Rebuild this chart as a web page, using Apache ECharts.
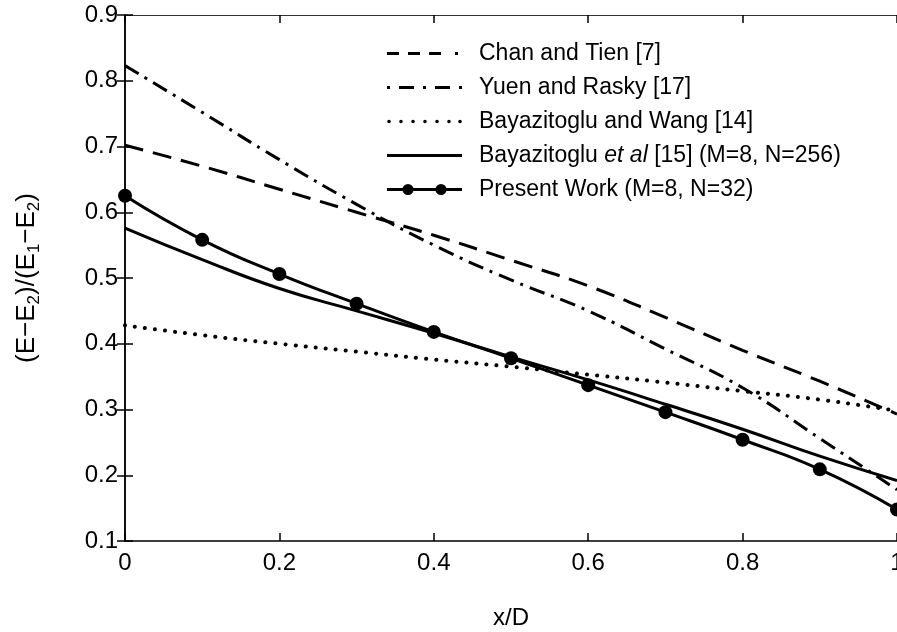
<!DOCTYPE html>
<html>
<head>
<meta charset="utf-8">
<script src="https://cdn.jsdelivr.net/npm/echarts@6/dist/echarts.min.js"></script>
<style>
html,body{margin:0;padding:0;background:#fff;}
#chart{width:897px;height:632px;}
</style>
</head>
<body>
<div id="chart"></div>
<script>
// ---- data ----
const xValues = [0, 0.1, 0.2, 0.3, 0.4, 0.5, 0.6, 0.7, 0.8, 0.9, 1.0];
const chanTien = [0.702, 0.670, 0.635, 0.600, 0.565, 0.527, 0.488, 0.440, 0.390, 0.343, 0.293];
const yuenRasky = [0.823, 0.752, 0.680, 0.612, 0.550, 0.497, 0.450, 0.392, 0.333, 0.256, 0.178];
const bayWang = [0.428, 0.413, 0.400, 0.388, 0.376, 0.365, 0.353, 0.341, 0.328, 0.315, 0.298];
const bayEtAl = [0.576, 0.528, 0.484, 0.450, 0.416, 0.380, 0.345, 0.308, 0.270, 0.229, 0.192];
const presentWork = [0.625, 0.558, 0.506, 0.461, 0.418, 0.378, 0.337, 0.296, 0.254, 0.209, 0.148];
const seriesNames = [
  'Chan and Tien [7]',
  'Yuen and Rasky [17]',
  'Bayazitoglu and Wang [14]',
  'Bayazitoglu et al [15] (M=8, N=256)',
  'Present Work (M=8, N=32)'
];
const xTickLabels = ['0', '0.2', '0.4', '0.6', '0.8', '1'];
const yTickLabels = ['0.1', '0.2', '0.3', '0.4', '0.5', '0.6', '0.7', '0.8', '0.9'];

const FONT = 'Liberation Sans, Arial, Helvetica, sans-serif';
const pts = arr => xValues.map((x, i) => [x, arr[i]]);

const chart = echarts.init(document.getElementById('chart'), null, {renderer: 'canvas'});

const axisLine = {show: true, lineStyle: {color: '#000', width: 1.5}};
const tickIn = {show: true, inside: true, length: 8, lineStyle: {color: '#000', width: 1.5}};

// legend sample glyphs (75 x 12 boxes; the two bare moves fix the box corners)
const BOX = 'M0,0 M75,12 ';
const rect = (x0, x1) => 'M' + x0 + ',4.6 L' + x1 + ',4.6 L' + x1 + ',7.4 L' + x0 + ',7.4 Z ';
const dot = (cx, r) => 'M' + (cx - r) + ',6 A' + r + ',' + r + ' 0 1,1 ' + (cx + r) + ',6 A' + r + ',' + r + ' 0 1,1 ' + (cx - r) + ',6 Z ';
const iconDash = 'path://' + BOX + rect(0, 12) + rect(21, 33) + rect(42, 54) + rect(68, 71);
const iconDashDot = 'path://' + BOX + rect(0, 3) + rect(12, 27) + rect(36, 39) + rect(48, 63) + rect(72, 75);
const iconDot = 'path://' + BOX + dot(2, 1.8) + dot(14, 1.8) + dot(26, 1.8) + dot(38, 1.8) + dot(50, 1.8) + dot(62, 1.8) + dot(73, 1.8);
const iconSolid = 'path://' + BOX + rect(0, 75);
const iconPresent = 'path://' + BOX + rect(0, 16) + dot(21, 5.5) + rect(26, 49) + dot(54, 5.5) + rect(59, 75);

chart.setOption({
  backgroundColor: '#fff',
  animation: false,
  grid: {left: 125, right: 0, top: 15, bottom: 91, containLabel: false, outerBoundsMode: 'none'},
  legend: {
    orient: 'vertical',
    left: 382,
    top: 37,
    itemWidth: 75,
    itemHeight: 12,
    itemGap: 11,
    selectedMode: false,
    data: [
      {name: seriesNames[0], icon: iconDash, itemStyle: {color: '#000'}},
      {name: seriesNames[1], icon: iconDashDot, itemStyle: {color: '#000'}},
      {name: seriesNames[2], icon: iconDot, itemStyle: {color: '#000'}},
      {name: seriesNames[3], icon: iconSolid, itemStyle: {color: '#000'}},
      {name: seriesNames[4], icon: iconPresent, itemStyle: {color: '#000'}}
    ],
    formatter: function (name) {
      if (name === seriesNames[3]) {
        return '{n|Bayazitoglu }{i|et al}{n| [15] (M=8, N=256)}';
      }
      return '{n|' + name + '}';
    },
    textStyle: {
      color: '#000',
      fontFamily: FONT,
      fontSize: 23,
      padding: [0, 0, 0, 12],
      rich: {
        n: {fontFamily: FONT, fontSize: 23, color: '#000'},
        i: {fontFamily: FONT, fontSize: 23, color: '#000', fontStyle: 'italic'}
      }
    }
  },
  xAxis: [
    {
      type: 'value', min: 0, max: 1, interval: 0.2,
      position: 'bottom',
      name: 'x/D', nameLocation: 'middle', nameGap: 65,
      nameTextStyle: {color: '#000', fontFamily: FONT, fontSize: 24},
      axisLine: axisLine, axisTick: tickIn,
      axisLabel: {
        color: '#000', fontFamily: FONT, fontSize: 24, margin: 10,
        formatter: v => xTickLabels[Math.round(v / 0.2)]
      },
      splitLine: {show: false}
    },
    {
      type: 'value', min: 0, max: 1, interval: 0.2,
      position: 'top',
      axisLine: {show: true, lineStyle: {color: '#333', width: 1.2}}, axisTick: tickIn,
      axisLabel: {show: false}, splitLine: {show: false}
    }
  ],
  yAxis: [
    {
      type: 'value', min: 0.1, max: 0.9, interval: 0.1,
      position: 'left',
      name: '{a|(E−E}{s|2}{a|)/(E}{s|1}{a|−E}{s|2}{a|)}',
      nameLocation: 'middle', nameRotate: 90, nameGap: 82,
      nameTextStyle: {
        color: '#000', fontFamily: FONT, fontSize: 26,
        rich: {
          a: {fontFamily: FONT, fontSize: 26, color: '#000', lineHeight: 33},
          s: {fontFamily: FONT, fontSize: 17, color: '#000', lineHeight: 17, verticalAlign: 'bottom'}
        }
      },
      axisLine: axisLine, axisTick: tickIn,
      axisLabel: {
        color: '#000', fontFamily: FONT, fontSize: 24, margin: 7,
        formatter: v => yTickLabels[Math.round((v - 0.1) / 0.1)]
      },
      splitLine: {show: false}
    },
    {
      type: 'value', min: 0.1, max: 0.9, interval: 0.1,
      position: 'right',
      axisLine: axisLine, axisTick: tickIn,
      axisLabel: {show: false}, splitLine: {show: false}
    }
  ],
  series: [
    {
      name: seriesNames[0], type: 'line', data: pts(chanTien), smooth: true,
      symbol: 'none', color: '#000',
      lineStyle: {color: '#000', width: 3, type: [19, 10]}
    },
    {
      name: seriesNames[1], type: 'line', data: pts(yuenRasky), smooth: true,
      symbol: 'none', color: '#000',
      lineStyle: {color: '#000', width: 3, type: [16, 7, 3, 7]}
    },
    {
      name: seriesNames[2], type: 'line', data: pts(bayWang), smooth: true,
      symbol: 'none', color: '#000',
      lineStyle: {color: '#000', width: 4, type: [0.1, 10], cap: 'round'}
    },
    {
      name: seriesNames[3], type: 'line', data: pts(bayEtAl), smooth: true,
      symbol: 'none', color: '#000',
      lineStyle: {color: '#000', width: 3}
    },
    {
      name: seriesNames[4], type: 'line', data: pts(presentWork), smooth: true,
      symbol: 'circle', symbolSize: 14, showSymbol: true, color: '#000',
      itemStyle: {color: '#000'},
      lineStyle: {color: '#000', width: 3}
    }
  ]
});
</script>
</body>
</html>
